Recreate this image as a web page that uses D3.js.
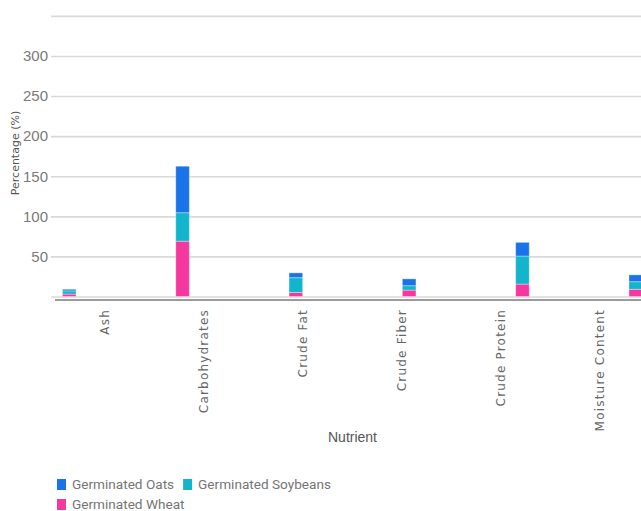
<!DOCTYPE html>
<html>
<head>
<meta charset="utf-8">
<script src="https://cdn.jsdelivr.net/npm/d3@7"></script>
<style>
  body { margin: 0; background: #fff; overflow: hidden; }
  svg { display: block; }
</style>
</head>
<body>
<svg id="chart"></svg>
<script>
// data
var categories = ["Ash", "Carbohydrates", "Crude Fat", "Crude Fiber", "Crude Protein", "Moisture Content"];
var wheat = [3, 69, 5, 8, 15.5, 9];
var soybeans = [4, 35.5, 18.5, 5.5, 35, 9.5];
var oats = [2, 58, 6, 8.5, 17, 8.5];
var yTicks = [0, 50, 100, 150, 200, 250, 300, 350];

var seriesNames = ["Germinated Wheat", "Germinated Soybeans", "Germinated Oats"];
var colors = { "Germinated Oats": "#1a73e8", "Germinated Soybeans": "#12b5cb", "Germinated Wheat": "#f538a0" };

var svgWidth = 641, svgHeight = 511;

var svg = d3.select("#chart")
    .attr("width", svgWidth)
    .attr("height", svgHeight);

var rows = categories.map(function(c, i) {
    return { cat: c, "Germinated Wheat": wheat[i], "Germinated Soybeans": soybeans[i], "Germinated Oats": oats[i] };
});

var y = d3.scaleLinear()
    .domain([0, 350])
    .range([296.5, 15.9]);

// bars and labels sit on different spacings in the reference
var xBars = d3.scaleBand()
    .domain(categories)
    .range([12.6, 692.4])
    .paddingInner(0.88)
    .paddingOuter(0.44);

var xLabels = d3.scaleBand()
    .domain(categories)
    .range([55.5, 649.5]);

// grid + y labels
var gridLeft = 51;
var yAxis = svg.append("g")
    .attr("transform", "translate(" + gridLeft + ",0)")
    .call(d3.axisLeft(y)
        .tickValues(yTicks)
        .tickSize(-(svgWidth - gridLeft))
        .tickPadding(3)
        .tickFormat(function(d) { return (d === 0 || d === 350) ? "" : d; }));

yAxis.select(".domain").remove();
yAxis.selectAll(".tick line")
    .attr("stroke", "#d9d9d9")
    .attr("stroke-width", 1.6);
yAxis.selectAll(".tick text")
    .attr("fill", "#7a7a7a")
    .style("font-family", "'Liberation Sans Narrow', 'Liberation Sans', sans-serif")
    .style("font-size", "15px");

// dark x axis line under the grid
svg.append("line")
    .attr("x1", 55)
    .attr("x2", svgWidth)
    .attr("y1", 300)
    .attr("y2", 300)
    .attr("stroke", "#7a7a7a")
    .attr("stroke-width", 1.4);

// stacked bars
var stack = d3.stack().keys(seriesNames);
var layers = stack(rows);

svg.append("g")
    .selectAll("g")
    .data(layers)
    .enter()
    .append("g")
    .attr("fill", function(d) { return colors[d.key]; })
    .selectAll("rect")
    .data(function(d) { return d; })
    .enter()
    .append("rect")
    .attr("x", function(d) { return xBars(d.data.cat); })
    .attr("y", function(d) { return y(d[1]); })
    .attr("width", xBars.bandwidth())
    .attr("height", function(d) { return y(d[0]) - y(d[1]); })
    .attr("stroke", "#ffffff")
    .attr("stroke-opacity", 0.35)
    .attr("stroke-width", 1);

// category labels
var xAxis = svg.append("g")
    .attr("transform", "translate(0,309)")
    .call(d3.axisBottom(xLabels).tickSize(0));

xAxis.select(".domain").remove();
xAxis.selectAll(".tick text")
    .attr("transform", "rotate(-90)")
    .attr("x", 0)
    .attr("y", 0)
    .attr("dy", "0.36em")
    .attr("text-anchor", "end")
    .attr("fill", "#666")
    .style("font-family", "'DejaVu Sans', sans-serif")
    .style("font-size", "12px")
    .style("letter-spacing", "1.2px");

// axis titles
svg.append("text")
    .attr("x", 352.5)
    .attr("y", 442)
    .attr("text-anchor", "middle")
    .attr("fill", "#555")
    .style("font-family", "'Liberation Sans Narrow', 'Liberation Sans', sans-serif")
    .style("font-size", "14px")
    .text("Nutrient");

svg.append("text")
    .attr("transform", "translate(19,153) rotate(-90)")
    .attr("text-anchor", "middle")
    .attr("fill", "#555")
    .style("font-family", "'DejaVu Sans', sans-serif")
    .style("font-size", "11px")
    .text("Percentage (%)");

// legend
var legendItems = ["Germinated Oats", "Germinated Soybeans", "Germinated Wheat"];
var legend = svg.append("g");
var lx = 57, ly = 479, maxX = 400;
legendItems.forEach(function(name) {
    var item = legend.append("g");
    item.append("rect")
        .attr("width", 9)
        .attr("height", 11)
        .attr("fill", colors[name]);
    var t = item.append("text")
        .attr("x", 15)
        .attr("y", 10)
        .attr("fill", "#757575")
        .style("font-family", "Roboto, sans-serif")
        .style("font-size", "13.6px")
        .text(name);
    var w = 15 + t.node().getComputedTextLength();
    if (lx + w > maxX) { lx = 57; ly += 20; }
    item.attr("transform", "translate(" + lx + "," + ly + ")");
    lx += w + 9;
});
</script>
</body>
</html>
